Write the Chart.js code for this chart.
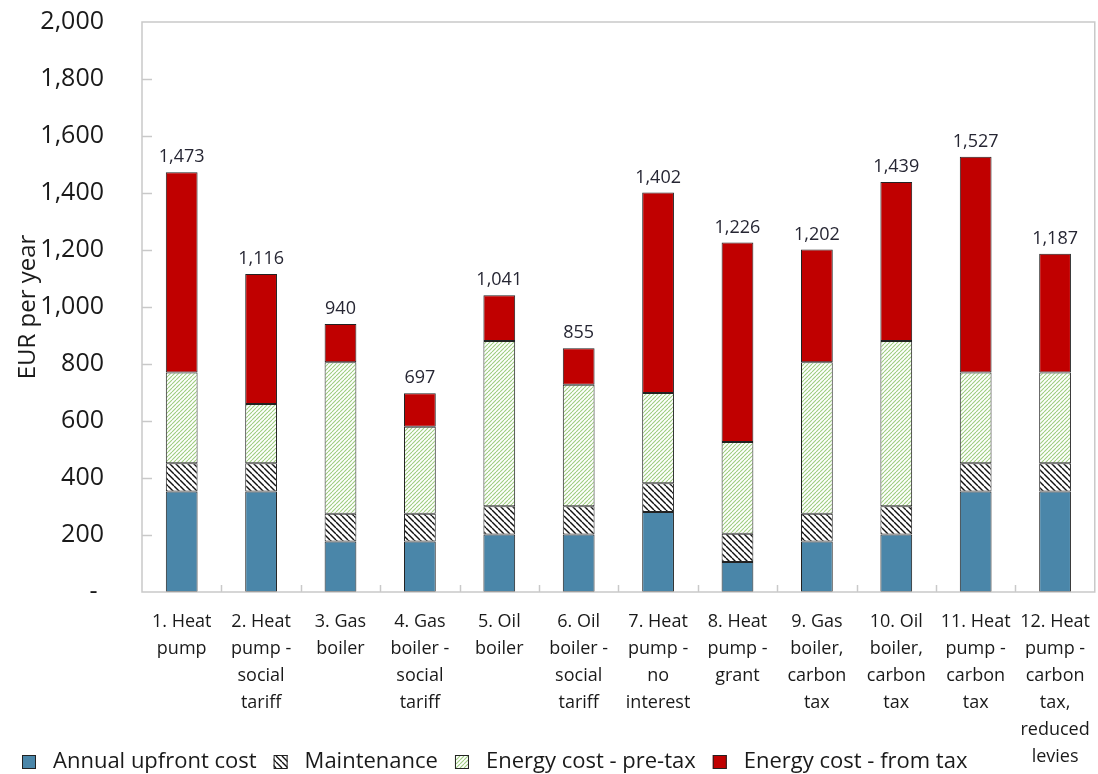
<!DOCTYPE html>
<html>
<head>
<meta charset="utf-8">
<title>Heating cost per year</title>
<script src="https://cdn.jsdelivr.net/npm/chart.js@4.4.1/dist/chart.umd.min.js"></script>
<style>
    body { margin: 0; background: #fff; }
    #wrap { width: 1098px; height: 774px; position: relative; }
</style>
</head>
<body>
<div id="wrap"><canvas id="costChart"></canvas></div>
<script>
// Chart data
const categories = [
    ['1. Heat', 'pump'],
    ['2. Heat', 'pump -', 'social', 'tariff'],
    ['3. Gas', 'boiler'],
    ['4. Gas', 'boiler -', 'social', 'tariff'],
    ['5. Oil', 'boiler'],
    ['6. Oil', 'boiler -', 'social', 'tariff'],
    ['7. Heat', 'pump -', 'no', 'interest'],
    ['8. Heat', 'pump -', 'grant'],
    ['9. Gas', 'boiler,', 'carbon', 'tax'],
    ['10. Oil', 'boiler,', 'carbon', 'tax'],
    ['11. Heat', 'pump -', 'carbon', 'tax'],
    ['12. Heat', 'pump -', 'carbon', 'tax,', 'reduced', 'levies']
];
const upfrontCost = [353, 353, 177, 177, 202, 202, 281, 105, 177, 202, 353, 353];
const maintenance = [99, 99, 98, 98, 99, 99, 101, 99, 98, 99, 99, 99];
const energyPreTax = [318, 208, 531, 305, 580, 426, 316, 322, 531, 580, 318, 318];
const energyFromTax = [703, 456, 134, 117, 160, 128, 704, 700, 396, 558, 757, 417];
const yTicks = [0, 200, 400, 600, 800, 1000, 1200, 1400, 1600, 1800, 2000];

const FONT = '"Open Sans", "Noto Sans", sans-serif';
const BLUE = '#4a86a9';
const RED = '#c00000';

// Build a diagonal hatch pattern
function hatch(size, color, lineWidth, dir) {
    const c = document.createElement('canvas');
    c.width = size;
    c.height = size;
    const ctx = c.getContext('2d');
    ctx.fillStyle = '#fff';
    ctx.fillRect(0, 0, size, size);
    ctx.strokeStyle = color;
    ctx.lineWidth = lineWidth;
    for (let k = -1; k <= 1; k++) {
        ctx.beginPath();
        if (dir === '/') {
            ctx.moveTo(k * size, size);
            ctx.lineTo(k * size + size, 0);
        } else {
            ctx.moveTo(k * size, 0);
            ctx.lineTo(k * size + size, size);
        }
        ctx.stroke();
    }
    return ctx.createPattern(c, 'repeat');
}

const maintPattern = hatch(6, '#111', 1.4, '\\');
const greenPattern = hatch(4, '#9dcc7e', 1.1, '/');

const legendItems = [
    { label: 'Annual upfront cost', fill: BLUE },
    { label: 'Maintenance', fill: maintPattern },
    { label: 'Energy cost - pre-tax', fill: greenPattern },
    { label: 'Energy cost - from tax', fill: RED }
];

// Frame, inner ticks, totals and legend
const decorations = {
    id: 'decorations',
    afterDatasetsDraw(chart) {
        const { ctx, chartArea: a, scales: { x, y } } = chart;
        ctx.save();

        // plot frame
        ctx.strokeStyle = '#c9c9c9';
        ctx.lineWidth = 1.5;
        ctx.strokeRect(a.left, a.top, a.right - a.left, a.bottom - a.top);

        // y ticks pointing inward
        yTicks.forEach(v => {
            if (v === 0 || v === 2000) return;
            const py = Math.round(y.getPixelForValue(v)) + 0.5;
            ctx.beginPath();
            ctx.moveTo(a.left, py);
            ctx.lineTo(a.left + 10, py);
            ctx.stroke();
        });

        // x ticks between categories
        for (let i = 1; i < categories.length; i++) {
            const px = Math.round((x.getPixelForValue(i - 1) + x.getPixelForValue(i)) / 2) + 0.5;
            ctx.beginPath();
            ctx.moveTo(px, a.bottom);
            ctx.lineTo(px, a.bottom - 7);
            ctx.stroke();
        }

        // totals above bars
        ctx.fillStyle = '#262633';
        ctx.font = '18px ' + FONT;
        ctx.textAlign = 'center';
        ctx.textBaseline = 'bottom';
        categories.forEach((c, i) => {
            const total = upfrontCost[i] + maintenance[i] + energyPreTax[i] + energyFromTax[i];
            ctx.fillText(total.toLocaleString('en-US'), x.getPixelForValue(i), y.getPixelForValue(total) - 6);
        });

        // legend
        ctx.font = '22px ' + FONT;
        ctx.textAlign = 'left';
        ctx.textBaseline = 'middle';
        let lx = 22;
        const ly = 762;
        legendItems.forEach(item => {
            ctx.fillStyle = item.fill;
            ctx.fillRect(lx, ly - 7, 14, 14);
            ctx.strokeStyle = '#222';
            ctx.lineWidth = 1;
            ctx.strokeRect(lx + 0.5, ly - 6.5, 13, 13);
            ctx.fillStyle = '#1a1a1a';
            ctx.fillText(item.label, lx + 31, ly);
            lx += 31 + ctx.measureText(item.label).width + 17;
        });

        ctx.restore();
    }
};

function makeDataset(label, data, fill) {
    return {
        label: label,
        data: data,
        backgroundColor: fill,
        borderColor: '#222',
        borderWidth: 1,
        borderSkipped: false,
        categoryPercentage: 1,
        barPercentage: 0.4
    };
}

new Chart(document.getElementById('costChart'), {
    type: 'bar',
    data: {
        labels: categories,
        datasets: [
            makeDataset('Annual upfront cost', upfrontCost, BLUE),
            makeDataset('Maintenance', maintenance, maintPattern),
            makeDataset('Energy cost - pre-tax', energyPreTax, greenPattern),
            makeDataset('Energy cost - from tax', energyFromTax, RED)
        ]
    },
    options: {
        responsive: true,
        maintainAspectRatio: false,
        animation: false,
        layout: { padding: { top: 22, right: 1, left: 0, bottom: 0 } },
        plugins: {
            legend: { display: false },
            tooltip: { enabled: false }
        },
        scales: {
            x: {
                stacked: true,
                grid: { display: false },
                border: { display: false },
                afterFit: scale => { scale.height = 182; },
                ticks: {
                    color: '#1a1a1a',
                    maxRotation: 0,
                    autoSkip: false,
                    padding: 8,
                    font: { family: FONT, size: 18, lineHeight: 1.5 }
                }
            },
            y: {
                stacked: true,
                min: 0,
                max: 2000,
                grid: { display: false },
                border: { display: false },
                afterFit: scale => {
                    scale.width = 142;
                    scale.paddingTop = 0;
                    scale.paddingBottom = 0;
                },
                title: {
                    display: true,
                    text: 'EUR per year',
                    color: '#1a1a1a',
                    padding: { top: 14, bottom: 0 },
                    font: { family: FONT, size: 24 }
                },
                afterBuildTicks: scale => {
                    scale.ticks = yTicks.map(v => ({ value: v }));
                },
                ticks: {
                    color: '#1a1a1a',
                    padding: 30,
                    font: { family: FONT, size: 25 },
                    callback: v => v === 0 ? '- ' : v.toLocaleString('en-US')
                }
            }
        }
    },
    plugins: [decorations]
});
</script>
</body>
</html>
